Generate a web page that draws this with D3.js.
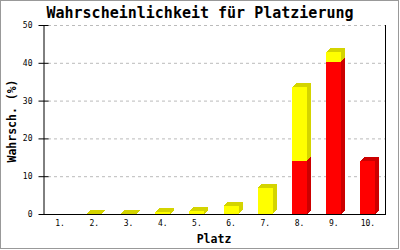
<!DOCTYPE html>
<html>
<head>
<meta charset="utf-8">
<script src="https://d3js.org/d3.v7.min.js"></script>
<style>
  * { margin: 0; padding: 0; }
  body { background: #fff; }
  text { font-family: 'DejaVu Sans Mono', 'Liberation Mono', monospace; }
</style>
</head>
<body>
<div id="chart"></div>
<script>
// data
const places = ["1.", "2.", "3.", "4.", "5.", "6.", "7.", "8.", "9.", "10."];
const redVals = [0, 0, 0, 0, 0, 0, 0, 14.1, 40.3, 14.1];
const yellowVals = [0, 0.1, 0.1, 0.4, 0.7, 2.1, 7.0, 19.4, 2.6, 0];
const yTicks = [0, 10, 20, 30, 40, 50];

const w = 400, h = 250;
const plotL = 43, plotR = 385, plotT = 25, plotB = 214;
const depth = 4;

const svg = d3.select("#chart").append("svg")
  .attr("width", w).attr("height", h);

svg.append("rect")
  .attr("x", 0.5).attr("y", 0.5)
  .attr("width", w - 2).attr("height", h - 2)
  .attr("fill", "#fff").attr("stroke", "#999");

const x = d3.scaleBand()
  .domain(places)
  .range([plotL, plotR])
  .paddingInner(0.56)
  .paddingOuter(0.28);

const y = d3.scaleLinear().domain([0, 50]).range([plotB, plotT]);

// grid
svg.append("g").selectAll("line")
  .data(yTicks.filter(d => d > 0))
  .enter().append("line")
  .attr("x1", plotL + 5).attr("x2", plotR)
  .attr("y1", d => y(d) + 0.5).attr("y2", d => y(d) + 0.5)
  .attr("stroke", "#bbb")
  .attr("stroke-dasharray", "3,3");

// stacked segments
const segs = [];
places.forEach((p, i) => {
  if (redVals[i] > 0) segs.push({p, y0: 0, y1: redVals[i], front: "#ff0000", dark: "#cc0000"});
  if (yellowVals[i] > 0) segs.push({p, y0: redVals[i], y1: redVals[i] + yellowVals[i], front: "#ffff00", dark: "#d4d400"});
});

const bars = svg.append("g").attr("shape-rendering", "crispEdges");
segs.forEach(s => {
  const x0 = x(s.p), x1 = x(s.p) + x.bandwidth();
  const yt = y(s.y1), yb = y(s.y0);
  bars.append("polygon")
    .attr("points", [[x1, yt], [x1 + depth, yt - depth], [x1 + depth, yb - depth], [x1, yb]].join(" "))
    .attr("fill", s.dark);
  bars.append("polygon")
    .attr("points", [[x0, yt], [x1, yt], [x1 + depth, yt - depth], [x0 + depth, yt - depth]].join(" "))
    .attr("fill", s.dark);
  bars.append("rect")
    .attr("x", x0).attr("y", yt)
    .attr("width", x.bandwidth()).attr("height", yb - yt)
    .attr("fill", s.front);
});

// y axis
const yAxis = svg.append("g")
  .attr("transform", `translate(${plotL + 0.5},0)`)
  .call(d3.axisLeft(y).tickValues(yTicks).tickSize(5).tickSizeOuter(0).tickPadding(6));
yAxis.selectAll(".tick line").attr("x1", 5).attr("stroke", "#000");
yAxis.select(".domain").attr("stroke", "#000");
yAxis.selectAll("text").attr("font-size", 8).attr("font-family", "'DejaVu Sans Mono', monospace");

// x axis
const xAxis = svg.append("g")
  .attr("transform", `translate(0,${plotB + 0.5})`)
  .call(d3.axisBottom(x).tickSize(0).tickPadding(6));
xAxis.select(".domain").attr("stroke", "#000").attr("d", `M${plotL},0H${plotR}`);
xAxis.selectAll("text").attr("font-size", 8).attr("font-family", "'DejaVu Sans Mono', monospace");

// right border of plot
svg.append("line")
  .attr("x1", plotR + 0.5).attr("x2", plotR + 0.5)
  .attr("y1", plotT).attr("y2", plotB + 1)
  .attr("stroke", "#000");

// titles
svg.append("text")
  .attr("x", w / 2).attr("y", 18)
  .attr("text-anchor", "middle")
  .attr("font-size", 15).attr("font-weight", "bold")
  .text("Wahrscheinlichkeit für Platzierung");

svg.append("text")
  .attr("x", (plotL + plotR) / 2).attr("y", 243)
  .attr("text-anchor", "middle")
  .attr("font-size", 11.5).attr("font-weight", "bold")
  .text("Platz");

svg.append("text")
  .attr("transform", "translate(16,121) rotate(-90)")
  .attr("text-anchor", "middle")
  .attr("font-size", 11.5).attr("font-weight", "bold")
  .text("Wahrsch. (%)");
</script>
</body>
</html>
